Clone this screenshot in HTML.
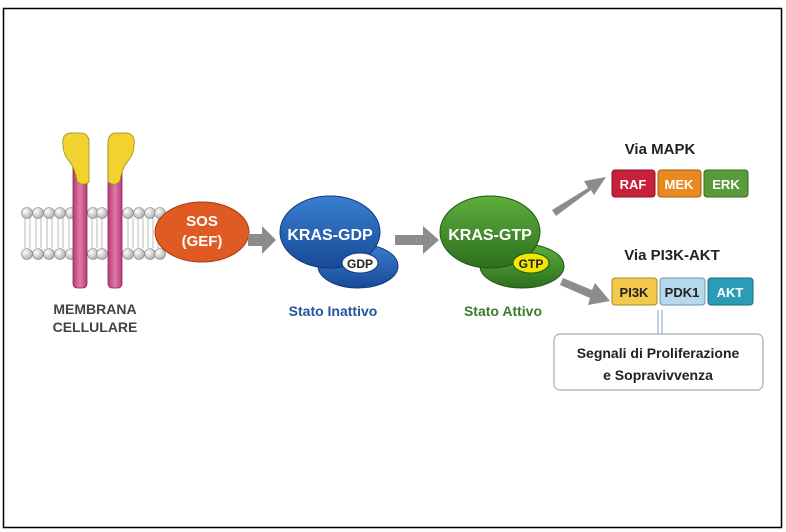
<!DOCTYPE html><html><head><style>body{margin:0;background:#fff}svg{display:block}text{font-family:"Liberation Sans",sans-serif;font-weight:bold}</style></head><body>
<svg width="786" height="532" viewBox="0 0 786 532" xmlns="http://www.w3.org/2000/svg">
<defs>
<radialGradient id="gl" cx="35%" cy="35%" r="70%"><stop offset="0" stop-color="#fff"/><stop offset="1" stop-color="#aaa"/></radialGradient>
<linearGradient id="bl" x1="0" y1="0" x2="0" y2="1"><stop offset="0" stop-color="#3a7fd0"/><stop offset="1" stop-color="#174a96"/></linearGradient>
<linearGradient id="gr" x1="0" y1="0" x2="0" y2="1"><stop offset="0" stop-color="#5fae3c"/><stop offset="1" stop-color="#2c6f1f"/></linearGradient>
<linearGradient id="pk" x1="0" y1="0" x2="1" y2="0"><stop offset="0" stop-color="#b83a78"/><stop offset=".5" stop-color="#e07aa8"/><stop offset="1" stop-color="#b83a78"/></linearGradient>
</defs>
<rect x="3.5" y="8.5" width="778" height="519" fill="#fff" stroke="#000" stroke-width="1.5"/>
<g stroke="#aaa" stroke-width="0.8" fill="none">
<path d="M25 218 v30 M30 218 v30 M36 218 v30 M41 218 v30 M47 218 v30 M52 218 v30 M58 218 v30 M63 218 v30 M69 218 v30 M92 218 v30 M97 218 v30 M102 218 v30 M128 218 v30 M133 218 v30 M138 218 v30 M143 218 v30 M148 218 v30 M153 218 v30 M158 218 v30"/>
</g>
<g fill="url(#gl)" stroke="#888" stroke-width="0.6">
<circle cx="27" cy="213" r="5.5"/><circle cx="38" cy="213" r="5.5"/><circle cx="49" cy="213" r="5.5"/><circle cx="60" cy="213" r="5.5"/><circle cx="71" cy="213" r="5.5"/><circle cx="93" cy="213" r="5.5"/><circle cx="102" cy="213" r="5.5"/><circle cx="128" cy="213" r="5.5"/><circle cx="139" cy="213" r="5.5"/><circle cx="150" cy="213" r="5.5"/><circle cx="160" cy="213" r="5.5"/>
<circle cx="27" cy="254" r="5.5"/><circle cx="38" cy="254" r="5.5"/><circle cx="49" cy="254" r="5.5"/><circle cx="60" cy="254" r="5.5"/><circle cx="71" cy="254" r="5.5"/><circle cx="93" cy="254" r="5.5"/><circle cx="102" cy="254" r="5.5"/><circle cx="128" cy="254" r="5.5"/><circle cx="139" cy="254" r="5.5"/><circle cx="150" cy="254" r="5.5"/><circle cx="160" cy="254" r="5.5"/>
</g>
<rect x="73" y="140" width="14" height="148" rx="4" fill="url(#pk)" stroke="#8a2a5a" stroke-width="0.8"/>
<rect x="108" y="140" width="14" height="148" rx="4" fill="url(#pk)" stroke="#8a2a5a" stroke-width="0.8"/>
<path d="M63 145 Q61 132 74 133 L82 133 Q90 134 89 146 L89 182 Q82 187 77 181 Q75 168 69 161 Q63 154 63 145Z" fill="#f2d22e" stroke="#a08a10" stroke-width="0.8"/>
<path d="M134 145 Q136 132 123 133 L115 133 Q107 134 108 146 L108 182 Q115 187 120 181 Q122 168 128 161 Q134 154 134 145Z" fill="#f2d22e" stroke="#a08a10" stroke-width="0.8"/>
<text x="95" y="314" font-size="14" fill="#444" text-anchor="middle">MEMBRANA</text>
<text x="95" y="332" font-size="14" fill="#444" text-anchor="middle">CELLULARE</text>
<ellipse cx="202" cy="232" rx="47" ry="30" fill="#e05a24" stroke="#a83a10"/>
<text x="202" y="226" font-size="15" fill="#fff" text-anchor="middle">SOS</text>
<text x="202" y="246" font-size="15" fill="#fff" text-anchor="middle">(GEF)</text>
<g fill="#8c8c8c">
<path d="M248 234 h14 v-8 l14 14 -14 14 v-8 h-14z"/>
<path d="M395 235 h28 v-9 l16 14 -16 14 v-9 h-28z"/>
<path d="M552 210 L588 188 L584 181 L606 177 L594 195 L591 190 L556 216z"/>
<path d="M563 278 L592 290 L595 283 L610 301 L588 305 L590 298 L560 285z"/>
</g>
<ellipse cx="358" cy="266" rx="40" ry="22" fill="url(#bl)" stroke="#123a7a"/>
<ellipse cx="330" cy="232" rx="50" ry="36" fill="url(#bl)" stroke="#123a7a"/>
<text x="330" y="240" font-size="16" fill="#fff" text-anchor="middle">KRAS-GDP</text>
<ellipse cx="360" cy="263" rx="18" ry="10" fill="#fff" stroke="#123a7a"/>
<text x="360" y="268" font-size="12" fill="#222" text-anchor="middle">GDP</text>
<text x="333" y="316" font-size="14" fill="#1f56a0" text-anchor="middle">Stato Inattivo</text>
<ellipse cx="522" cy="266" rx="42" ry="22" fill="url(#gr)" stroke="#1e5a14"/>
<ellipse cx="490" cy="232" rx="50" ry="36" fill="url(#gr)" stroke="#1e5a14"/>
<text x="490" y="240" font-size="16" fill="#fff" text-anchor="middle">KRAS-GTP</text>
<ellipse cx="531" cy="263" rx="18" ry="10" fill="#f5e600" stroke="#1e5a14"/>
<text x="531" y="268" font-size="12" fill="#222" text-anchor="middle">GTP</text>
<text x="503" y="316" font-size="14" fill="#3b7a2a" text-anchor="middle">Stato Attivo</text>
<text x="660" y="154" font-size="15" fill="#222" text-anchor="middle">Via MAPK</text>
<rect x="612" y="170" width="43" height="27" rx="3" fill="#c8203a" stroke="#8a1020"/>
<rect x="658" y="170" width="43" height="27" rx="3" fill="#e88a1f" stroke="#a85a10"/>
<rect x="704" y="170" width="44" height="27" rx="3" fill="#5a9a3a" stroke="#3a6a20"/>
<text x="633" y="189" font-size="13" fill="#fff" text-anchor="middle">RAF</text>
<text x="679" y="189" font-size="13" fill="#fff" text-anchor="middle">MEK</text>
<text x="726" y="189" font-size="13" fill="#fff" text-anchor="middle">ERK</text>
<text x="672" y="260" font-size="15" fill="#222" text-anchor="middle">Via PI3K-AKT</text>
<rect x="612" y="278" width="45" height="27" rx="3" fill="#f2c94c" stroke="#a88a20"/>
<rect x="660" y="278" width="45" height="27" rx="3" fill="#b5d8ea" stroke="#6a9ab0"/>
<rect x="708" y="278" width="45" height="27" rx="3" fill="#2a9cb8" stroke="#1a6a80"/>
<text x="634" y="297" font-size="13" fill="#222" text-anchor="middle">PI3K</text>
<text x="682" y="297" font-size="13" fill="#222" text-anchor="middle">PDK1</text>
<text x="730" y="297" font-size="13" fill="#fff" text-anchor="middle">AKT</text>
<path d="M658 310 v24 M662 310 v24" stroke="#8aa0b8" stroke-width="1"/>
<rect x="554" y="334" width="209" height="56" rx="6" fill="#fff" stroke="#9ab0c4" stroke-width="1.2"/>
<text x="658" y="358" font-size="14" fill="#222" text-anchor="middle">Segnali di Proliferazione</text>
<text x="658" y="380" font-size="14" fill="#222" text-anchor="middle">e Sopravivvenza</text>
</svg></body></html>
